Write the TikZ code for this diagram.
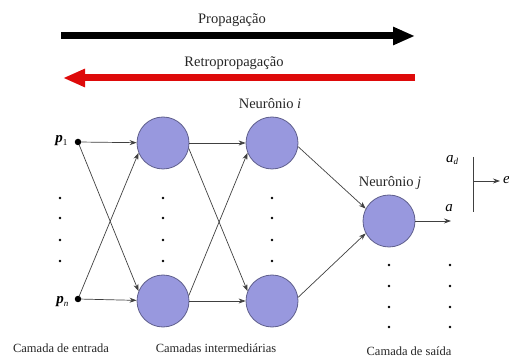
\documentclass[tikz,border=0pt]{standalone}
\usepackage{fontspec}
\setmainfont{Liberation Serif}
\usetikzlibrary{arrows.meta}
\definecolor{neufill}{RGB}{152,152,222}
\definecolor{neudraw}{RGB}{95,95,140}
\definecolor{backred}{RGB}{222,10,10}
\tikzset{
  neuron/.style={circle, fill=neufill, draw=neudraw, line width=0.8pt, minimum size=52pt, inner sep=0pt},
  inpt/.style={circle, fill=black, minimum size=6.5pt, inner sep=0pt},
  smalldot/.style={circle, fill=black, minimum size=2.8pt, inner sep=0pt},
  conn/.style={draw=black!75, line width=0.7pt, -{Stealth[length=7pt,width=5pt]}},
  bigarrow/.style={line width=7pt, -{Triangle[length=22pt,width=17pt]}},
  lbl/.style={font=\fontsize{14.5}{17}\selectfont, text=black!85},
  bot/.style={font=\fontsize{12.5}{15}\selectfont, text=black!85},
  mathlbl/.style={font=\fontsize{15}{18}\selectfont}
}
\newcommand{\subtxt}[1]{\raisebox{-0.3ex}{\fontsize{9}{10}\selectfont #1}}
\begin{document}
\begin{tikzpicture}[x=1pt,y=-1pt]
\useasboundingbox (0,0) rectangle (509,358);
% big arrows
\coordinate (pa) at (61,36);
\coordinate (pb) at (415,36);
\coordinate (ra) at (415,78);
\coordinate (rb) at (63,78);
\draw[bigarrow, black] (pa) -- (pb);
\draw[bigarrow, backred] (ra) -- (rb);
\node[lbl] (tprop) at (232,20) {Propagação};
\node[lbl] (tretro) at (234,63) {Retropropagação};
% inputs
\node[inpt] (p1) at (78,142) {};
\node[inpt] (pn) at (78,299) {};
\node[mathlbl, anchor=east] (lp1) at (71,141) {{\bfseries\itshape p}\subtxt{1}};
\node[mathlbl, anchor=east] (lpn) at (72,302) {{\bfseries\itshape p}\subtxt{\itshape n}};
% neurons
\node[neuron] (h1) at (163,143) {};
\node[neuron] (h2) at (163,301) {};
\node[neuron] (g1) at (272,143) {};
\node[neuron] (g2) at (272,301) {};
\node[neuron] (o) at (389,221) {};
% labels
\node[lbl] (li) at (270,104) {Neurônio \textit{i}};
\node[lbl] (lj) at (390,183) {Neurônio \textit{j}};
% connections
\draw[conn] (p1) -- (h1);
\draw[conn] (p1) -- (h2.158);
\draw[conn] (pn) -- (h1.202);
\draw[conn] (pn) -- (h2);
\draw[conn] (h1) -- (g1);
\draw[conn] (h1.-12) -- (g2.158);
\draw[conn] (h2.12) -- (g1.202);
\draw[conn] (h2) -- (g2);
\draw[conn] (g1.-8) -- (o.152);
\draw[conn] (g2.8) -- (o.208);
\coordinate (oend) at (451,221);
\draw[conn] (o) -- (oend);
\node[mathlbl] (la) at (449,208) {\textit{a}};
\node[mathlbl] (lad) at (452,160) {\textit{a}\subtxt{\itshape d}};
\coordinate (vt) at (473,157);
\coordinate (vb) at (473,212);
\coordinate (vm) at (473,181);
\coordinate (eend) at (500,181);
\draw[black!75, line width=0.8pt] (vt) -- (vb);
\draw[conn] (vm) -- (eend);
\node[mathlbl, anchor=west, inner sep=1pt] (le) at (502,180) {\textit{e}};
% dots
\foreach \y [count=\k] in {198,218,240,261} {
  \node[smalldot] (din\k) at (60,\y) {};
  \node[smalldot] (dh\k) at (163,\y) {};
  \node[smalldot] (dg\k) at (272,\y) {};
}
\foreach \y [count=\k] in {265,286,307,327} {
  \node[smalldot] (do\k) at (389,\y) {};
  \node[smalldot] (dq\k) at (450,\y) {};
}
% bottom labels
\node[bot] (c1) at (61,348) {Camada de entrada};
\node[bot] (c2) at (216,348) {Camadas intermediárias};
\node[bot] (c3) at (409,351) {Camada de saída};
\end{tikzpicture}
\end{document}
